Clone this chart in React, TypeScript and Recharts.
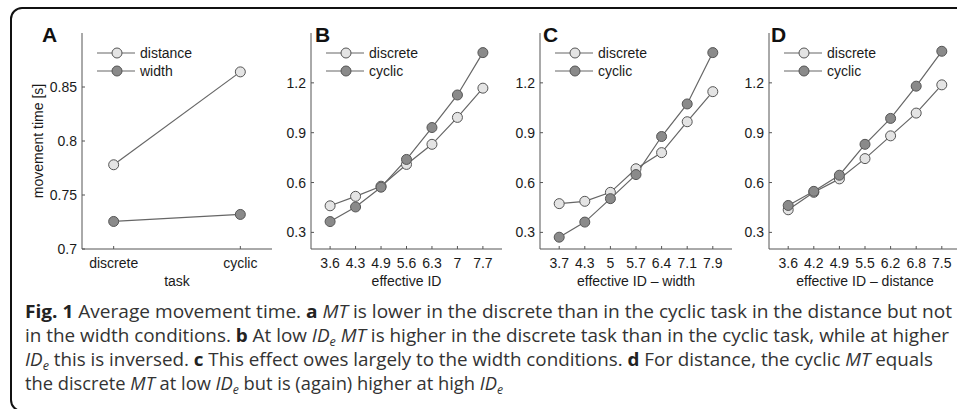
import React from "react";
import { LineChart, Line, XAxis, YAxis } from "recharts";

// panel A: task type
const taskLabels = ["discrete", "cyclic"];
const distanceMT = [0.778, 0.864];
const widthMT = [0.7255, 0.732];

// panel B: effective ID
const idB = ["3.6", "4.3", "4.9", "5.6", "6.3", "7", "7.7"];
const discreteB = [0.46, 0.517, 0.578, 0.709, 0.83, 0.992, 1.168];
const cyclicB = [0.365, 0.453, 0.572, 0.739, 0.931, 1.127, 1.382];

// panel C: effective ID - width
const idC = ["3.7", "4.3", "5", "5.7", "6.4", "7.1", "7.9"];
const discreteC = [0.473, 0.487, 0.541, 0.683, 0.78, 0.966, 1.147];
const cyclicC = [0.271, 0.362, 0.503, 0.648, 0.877, 1.073, 1.382];

// panel D: effective ID - distance
const idD = ["3.6", "4.2", "4.9", "5.5", "6.2", "6.8", "7.5"];
const discreteD = [0.436, 0.541, 0.622, 0.744, 0.881, 1.018, 1.188];
const cyclicD = [0.462, 0.547, 0.644, 0.83, 0.986, 1.18, 1.39];

const ticksA = [0.7, 0.75, 0.8, 0.85];
const ticksID = [0.3, 0.6, 0.9, 1.2];

const LIGHT = "#e4e4e4";
const DARK = "#8a8a8a";
const AXIS = "#555";
const FONT = "'Liberation Sans', Arial, sans-serif";

type PanelProps = {
  plotLeft: number;
  plotWidth: number;
  letter: string;
  letterX: number;
  labels: string[];
  a: number[];
  b: number[];
  names: [string, string];
  xDomain: [number, number];
  yDomain: [number, number];
  yTicks: number[];
  xLabel: string;
  yLabel?: string;
};

function Panel(p: PanelProps) {
  const data = p.labels.map((_, i) => ({ x: i + 1, a: p.a[i], b: p.b[i] }));
  const xt = p.labels.map((_, i) => i + 1);
  const tickStyle = { fontSize: 14, fill: "#1a1a1a", fontFamily: FONT };
  return (
    <>
      <div style={{ position: "absolute", left: p.plotLeft - 70, top: 0 }}>
        <LineChart
          width={70 + p.plotWidth + 10}
          height={300}
          data={data}
          margin={{ top: 33, right: 10, bottom: 0, left: 0 }}
        >
          <XAxis
            type="number"
            dataKey="x"
            domain={p.xDomain}
            ticks={xt}
            allowDataOverflow
            tickFormatter={(v: number) => p.labels[v - 1]}
            height={51}
            stroke={AXIS}
            tickSize={-3}
            tickMargin={12}
            tick={tickStyle}
            interval={0}
            label={{ value: p.xLabel, position: "insideBottom", offset: 14, style: { fontSize: 14, fill: "#1a1a1a", fontFamily: FONT } }}
          />
          <YAxis
            type="number"
            domain={p.yDomain}
            ticks={p.yTicks}
            allowDataOverflow
            width={70}
            stroke={AXIS}
            tickSize={-3}
            tickMargin={8}
            tick={tickStyle}
            tickFormatter={(v: number) => (p.yTicks === ticksA ? String(v) : v.toFixed(1))}
            label={
              p.yLabel
                ? { value: p.yLabel, angle: -90, position: "insideLeft", offset: 26, style: { textAnchor: "middle", fontSize: 14, fill: "#1a1a1a", fontFamily: FONT } }
                : undefined
            }
          />
          <Line
            type="linear"
            dataKey="a"
            stroke="#666"
            strokeWidth={1.2}
            dot={{ r: 5, fill: LIGHT, stroke: "#555", strokeWidth: 1 }}
            activeDot={false}
            isAnimationActive={false}
          />
          <Line
            type="linear"
            dataKey="b"
            stroke="#666"
            strokeWidth={1.2}
            dot={{ r: 5, fill: DARK, stroke: "#555", strokeWidth: 1 }}
            activeDot={false}
            isAnimationActive={false}
          />
        </LineChart>
      </div>
      <div
        style={{
          position: "absolute",
          left: p.letterX,
          top: 23,
          fontFamily: FONT,
          fontWeight: "bold",
          fontSize: 21,
          color: "#111",
          lineHeight: "24px",
        }}
      >
        {p.letter}
      </div>
      <svg style={{ position: "absolute", left: p.plotLeft, top: 40 }} width={130} height={44}>
        {p.names.map((n, i) => (
          <g key={n}>
            <line x1={15} x2={53} y1={13 + i * 18} y2={13 + i * 18} stroke="#666" strokeWidth={1.2} />
            <circle cx={35} cy={13 + i * 18} r={5} fill={i === 0 ? LIGHT : DARK} stroke="#555" strokeWidth={1} />
            <text x={58} y={13 + i * 18} dominantBaseline="central" fontSize={14} fill="#1a1a1a" fontFamily={FONT}>
              {n}
            </text>
          </g>
        ))}
      </svg>
    </>
  );
}

const CAP = "'Open Sans', 'Noto Sans', sans-serif";

function Caption() {
  const sub = (k: string) => (
    <>
      <tspan fontStyle="italic">ID</tspan>
      <tspan fontStyle="italic" fontSize={12} dy={4}>e</tspan>
      <tspan dy={-4}>{k}</tspan>
    </>
  );
  return (
    <svg style={{ position: "absolute", left: 0, top: 295 }} width={957} height={114}>
      <g fontFamily={CAP} fontSize={18} fill="#333" style={{ whiteSpace: "pre" }}>
        <text x={25} y={23} textLength={927} lengthAdjust="spacingAndGlyphs">
          <tspan fontWeight="bold" fill="#222">Fig. 1</tspan>
          {" Average movement time. "}
          <tspan fontWeight="bold" fill="#222">a</tspan>
          {" "}
          <tspan fontStyle="italic">MT</tspan>
          {" is lower in the discrete than in the cyclic task in the distance but not"}
        </text>
        <text x={25} y={47} textLength={924} lengthAdjust="spacingAndGlyphs">
          {"in the width conditions. "}
          <tspan fontWeight="bold" fill="#222">b</tspan>
          {" At low "}
          {sub(" ")}
          <tspan fontStyle="italic">MT</tspan>
          {" is higher in the discrete task than in the cyclic task, while at higher"}
        </text>
        <text x={25} y={71} textLength={908} lengthAdjust="spacingAndGlyphs">
          {sub(" this is inversed. ")}
          <tspan fontWeight="bold" fill="#222">c</tspan>
          {" This effect owes largely to the width conditions. "}
          <tspan fontWeight="bold" fill="#222">d</tspan>
          {" For distance, the cyclic "}
          <tspan fontStyle="italic">MT</tspan>
          {" equals"}
        </text>
        <text x={25} y={95} textLength={478} lengthAdjust="spacingAndGlyphs">
          {"the discrete "}
          <tspan fontStyle="italic">MT</tspan>
          {" at low "}
          {sub(" but is (again) higher at high ")}
          <tspan fontStyle="italic">ID</tspan>
          <tspan fontStyle="italic" fontSize={12} dy={4}>e</tspan>
        </text>
      </g>
    </svg>
  );
}

export default function App() {
  return (
    <div
      style={{
        position: "absolute",
        left: 0,
        top: 0,
        width: 957,
        height: 409,
        overflow: "hidden",
        background: "#fff",
      }}
    >
      <div
        style={{
          position: "absolute",
          left: 10,
          top: 7,
          width: 1000,
          height: 401,
          border: "2px solid #111",
          borderRadius: 12,
        }}
      />
      <Panel
        plotLeft={82}
        plotWidth={190}
        letter="A"
        letterX={42}
        labels={taskLabels}
        a={distanceMT}
        b={widthMT}
        names={["distance", "width"]}
        xDomain={[0.75, 2.25]}
        yDomain={[0.7, 0.9]}
        yTicks={ticksA}
        xLabel="task"
        yLabel="movement time [s]"
      />
      <Panel
        plotLeft={311}
        plotWidth={191}
        letter="B"
        letterX={315}
        labels={idB}
        a={discreteB}
        b={cyclicB}
        names={["discrete", "cyclic"]}
        xDomain={[0.25, 7.75]}
        yDomain={[0.2, 1.5]}
        yTicks={ticksID}
        xLabel="effective ID"
      />
      <Panel
        plotLeft={540}
        plotWidth={192}
        letter="C"
        letterX={543}
        labels={idC}
        a={discreteC}
        b={cyclicC}
        names={["discrete", "cyclic"]}
        xDomain={[0.25, 7.75]}
        yDomain={[0.2, 1.5]}
        yTicks={ticksID}
        xLabel="effective ID – width"
      />
      <Panel
        plotLeft={769}
        plotWidth={192}
        letter="D"
        letterX={771}
        labels={idD}
        a={discreteD}
        b={cyclicD}
        names={["discrete", "cyclic"]}
        xDomain={[0.25, 7.75]}
        yDomain={[0.2, 1.5]}
        yTicks={ticksID}
        xLabel="effective ID – distance"
      />
      <Caption />
    </div>
  );
}
